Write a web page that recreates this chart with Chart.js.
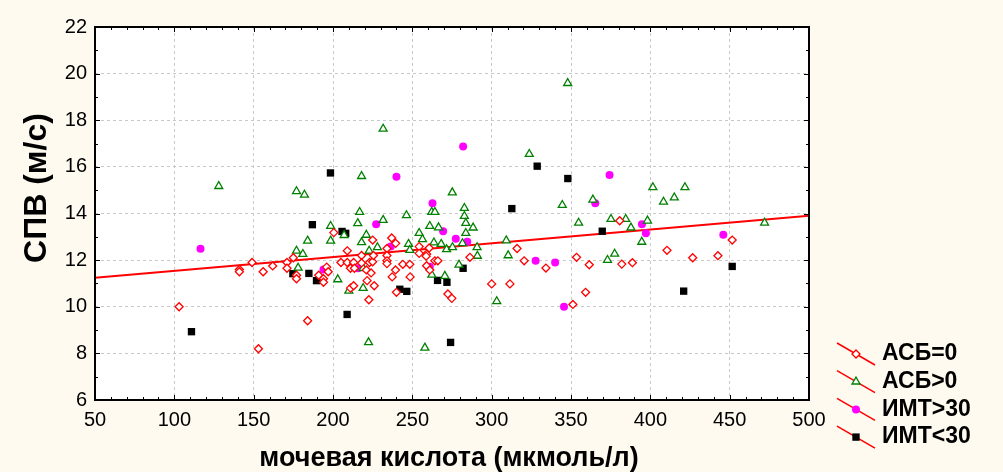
<!DOCTYPE html>
<html>
<head>
<meta charset="utf-8">
<script src="https://cdn.jsdelivr.net/npm/chart.js@4/dist/chart.umd.min.js"></script>
<style>
  html, body { margin: 0; padding: 0; background: #fffaf0; }
  canvas { display: block; }
</style>
</head>
<body>
<canvas id="scatter_chart" width="1003" height="472"></canvas>
<script>
// мочевая кислота (мкмоль/л) vs СПВ (м/с), four groups of patients
const asb_zero = [
  [103, 10.0], [141, 11.6], [141, 11.5], [149, 11.9], [153, 8.2], [156, 11.5], [162, 11.75],
  [171, 11.9], [171, 11.65], [175, 12.1], [177, 11.35], [177, 11.2], [184, 9.4], [191, 11.35],
  [194, 11.2], [194, 11.05], [196, 11.7], [197, 11.5], [200.5, 13.18], [205, 11.9], [209, 11.9],
  [213, 11.9], [211, 11.65], [213.5, 11.65], [209, 12.4], [211, 10.8], [213, 10.9], [218, 12.2],
  [218, 11.88], [221, 11.58], [221.5, 11.12], [222.6, 10.3], [223, 11.9], [225, 11.93],
  [225, 12.86], [226, 10.9], [224, 11.45], [225.5, 12.2], [234, 12.5], [234, 12.2], [234, 11.97],
  [234, 11.85], [237, 12.95], [239.5, 12.72], [239.4, 11.58], [237.3, 11.28], [240, 10.62],
  [244, 11.82], [248.4, 11.82], [248.6, 11.28], [254.3, 12.58], [254.3, 12.29], [259, 12.26],
  [258.7, 12.17], [260.6, 12.52], [259, 11.76], [261, 11.58], [264.2, 11.97], [266.1, 11.97],
  [272.4, 10.55], [274.9, 10.36], [286.3, 12.12], [300, 10.98], [311.5, 10.98], [316, 12.5],
  [320.5, 11.97], [334.2, 11.66], [351.2, 10.1], [353.5, 12.12], [359.2, 10.62], [361.5, 11.8],
  [380.7, 13.69], [382, 11.83], [388.7, 11.89], [410.5, 12.42], [426.7, 12.1], [442.6, 12.19],
  [451.6, 12.86]
];
const asb_positive = [
  [128, 15.17], [177, 14.95], [182, 14.8], [184, 12.83], [177, 12.4], [181, 12.26], [178, 11.67],
  [198.5, 13.46], [198.5, 12.83], [203, 11.17], [207, 13.07], [210, 10.68], [216.8, 14.06],
  [218, 15.6], [215.6, 13.58], [221, 13.08], [218, 12.76], [222.8, 12.4], [219, 11.65], [219, 10.8],
  [222.4, 8.47], [231.6, 17.63], [231.6, 13.72], [228, 12.55], [246.3, 13.92], [247.6, 12.69],
  [248.4, 12.43], [254.3, 13.16], [256.4, 12.89], [257.9, 8.24], [261, 13.46], [262.2, 14.06],
  [264.2, 14.06], [262.3, 11.37], [263.6, 12.75], [266.5, 13.4], [268.2, 12.69], [270.5, 11.32],
  [271.6, 12.46], [275.2, 14.9], [275.3, 12.55], [279.4, 11.8], [281.6, 12.72], [282.8, 14.23],
  [282.8, 13.89], [283.7, 13.59], [283.7, 13.16], [288.3, 13.39], [290.8, 12.55], [291, 12.18],
  [303.2, 10.23], [309.2, 12.84], [310.4, 12.2], [323.7, 16.55], [344.5, 14.36], [347.9, 19.59],
  [354.8, 13.6], [363.8, 14.59], [373, 12.0], [375.2, 13.76], [377.5, 12.27], [384.5, 13.76],
  [387.8, 13.39], [394.6, 12.78], [398.2, 13.69], [401.6, 15.12], [408.3, 14.5], [415.1, 14.68],
  [421.8, 15.12], [472, 13.6]
];
const imt_over_30 = [
  [116.5, 12.49], [194, 11.6], [215.8, 11.65], [227.2, 13.54], [236.4, 12.58], [240, 15.58],
  [261, 11.72], [262.7, 14.44], [269.4, 13.24], [277.4, 12.92], [282, 16.87], [284.6, 12.79],
  [327.7, 11.97], [340, 11.9], [345.6, 10.0], [365.3, 14.44], [374.3, 15.65], [394.7, 13.54],
  [397.2, 13.15], [446, 13.09]
];
const imt_under_30 = [
  [110.8, 8.93], [174.7, 11.42], [184.8, 11.43], [187, 13.52], [189.6, 11.12], [198.4, 15.74],
  [205.7, 13.23], [208, 13.15], [208.9, 9.67], [242.1, 10.75], [246.5, 10.66], [265.9, 11.13],
  [271.8, 11.05], [274.1, 8.47], [282, 11.65], [312.7, 14.21], [328.7, 16.03], [348, 15.5],
  [369.7, 13.24], [421, 10.67], [451.6, 11.73]
];
// linear fit over the whole sample
const fit_line = [[50, 11.24], [500, 13.9]];

const x_range = [50, 500];
const y_range = [6, 22];
const legend_labels = ["АСБ=0", "АСБ>0", "ИМТ>30", "ИМТ<30"];
const x_title = "мочевая кислота (мкмоль/л)";
const y_title = "СПВ (м/с)";

const to_points = (pairs) => pairs.map(([x, y]) => ({ x: x, y: y }));

const tick_font = { family: "'Liberation Sans Narrow', 'Arial Narrow', Arial, 'Liberation Sans', sans-serif", size: 20 };

// plot background, frame, tick marks, axis titles and legend
const frame_plugin = {
  id: "frame",
  beforeDraw: (chart) => {
    const { ctx, chartArea: a } = chart;
    ctx.save();
    ctx.fillStyle = "#ffffff";
    ctx.fillRect(a.left, a.top, a.right - a.left, a.bottom - a.top);
    ctx.restore();
  },
  afterDraw: (chart) => {
    const { ctx, chartArea: a } = chart;
    const xs = chart.scales.x, ys = chart.scales.y;
    ctx.save();
    ctx.strokeStyle = "#000";
    ctx.lineWidth = 1;
    ctx.beginPath();
    for (let v = x_range[0]; v <= x_range[1]; v += 10) {
      const px = Math.round(xs.getPixelForValue(v)) + 0.5;
      const len = v % 50 === 0 ? 5 : 3;
      ctx.moveTo(px, a.bottom); ctx.lineTo(px, a.bottom - len);
      ctx.moveTo(px, a.top); ctx.lineTo(px, a.top + len);
    }
    for (let v = y_range[0]; v <= y_range[1]; v += 1) {
      const py = Math.round(ys.getPixelForValue(v)) + 0.5;
      const len = v % 2 === 0 ? 5 : 3;
      ctx.moveTo(a.left, py); ctx.lineTo(a.left + len, py);
      ctx.moveTo(a.right, py); ctx.lineTo(a.right - len, py);
    }
    ctx.stroke();
    ctx.lineWidth = 2;
    ctx.strokeRect(a.left, a.top, a.right - a.left, a.bottom - a.top);

    // axis titles
    ctx.fillStyle = "#000";
    ctx.font = "bold 27px Arial, 'Liberation Sans', sans-serif";
    ctx.textAlign = "center";
    ctx.textBaseline = "middle";
    ctx.fillText(x_title, (a.left + a.right) / 2 - 3, 459);
    ctx.translate(37, 188);
    ctx.rotate(-Math.PI / 2);
    ctx.font = "bold 32px Arial, 'Liberation Sans', sans-serif";
    ctx.fillText(y_title, 0, 0);
    ctx.restore();

    // legend: red fit line crossed with each marker
    ctx.save();
    const mx = a.right + 47;
    chart.data.datasets.slice(0, 4).forEach((ds, i) => {
      const cy = 354 + i * 27.7;
      ctx.strokeStyle = "#ff0000";
      ctx.lineWidth = 1.5;
      ctx.beginPath();
      ctx.moveTo(mx - 19, cy - 11);
      ctx.lineTo(mx + 19, cy + 11);
      ctx.stroke();
      ctx.fillStyle = ds.backgroundColor;
      ctx.strokeStyle = ds.borderColor;
      ctx.lineWidth = ds.borderWidth;
      Chart.helpers.drawPoint(ctx, { pointStyle: ds.pointStyle, rotation: 0, radius: ds.pointRadius, borderWidth: ds.borderWidth }, mx, cy);
      ctx.fillStyle = "#000";
      ctx.font = "bold 23px Arial, 'Liberation Sans', sans-serif";
      ctx.textAlign = "left";
      ctx.textBaseline = "middle";
      ctx.fillText(legend_labels[i], mx + 26, cy);
    });
    ctx.restore();
  }
};

const config = {
  type: "scatter",
  data: {
    datasets: [
      {
        label: legend_labels[0],
        data: to_points(asb_zero),
        pointStyle: "rectRot",
        pointRadius: 4,
        borderWidth: 1.3,
        borderColor: "#ff0000",
        backgroundColor: "#ffffff",
      },
      {
        label: legend_labels[1],
        data: to_points(asb_positive),
        pointStyle: "triangle",
        pointRadius: 4.6,
        borderWidth: 1.3,
        borderColor: "#008000",
        backgroundColor: "#ffffff",
      },
      {
        label: legend_labels[2],
        data: to_points(imt_over_30),
        pointStyle: "circle",
        pointRadius: 4,
        borderWidth: 0,
        borderColor: "#ff00ff",
        backgroundColor: "#ff00ff",
      },
      {
        label: legend_labels[3],
        data: to_points(imt_under_30),
        pointStyle: "rect",
        pointRadius: 5.2,
        borderWidth: 0,
        borderColor: "#000000",
        backgroundColor: "#000000",
      },
      {
        type: "line",
        label: "fit",
        data: to_points(fit_line),
        borderColor: "#ff0000",
        borderWidth: 2,
        pointRadius: 0,
        fill: false,
      },
    ],
  },
  options: {
    responsive: false,
    animation: false,
    devicePixelRatio: 1,
    layout: { padding: { top: 27, right: 194, left: 0, bottom: 0 } },
    plugins: {
      legend: { display: false },
      tooltip: { enabled: false },
    },
    scales: {
      x: {
        type: "linear",
        min: x_range[0],
        max: x_range[1],
        afterFit: (scale) => { scale.height = 72; },
        ticks: { stepSize: 50, color: "#000", font: tick_font, padding: 8, maxRotation: 0 },
        grid: { color: "#c8c8c8", lineWidth: 1, drawTicks: false },
        border: { display: false, dash: [3, 3] },
      },
      y: {
        type: "linear",
        min: y_range[0],
        max: y_range[1],
        afterFit: (scale) => { scale.width = 95; },
        ticks: { stepSize: 2, color: "#000", font: tick_font, padding: 8 },
        grid: { color: "#c8c8c8", lineWidth: 1, drawTicks: false },
        border: { display: false, dash: [3, 3] },
      },
    },
  },
  plugins: [frame_plugin],
};

const ctx_scatter = document.getElementById("scatter_chart");
const scatter_chart = new Chart(ctx_scatter, config);
</script>
</body>
</html>
